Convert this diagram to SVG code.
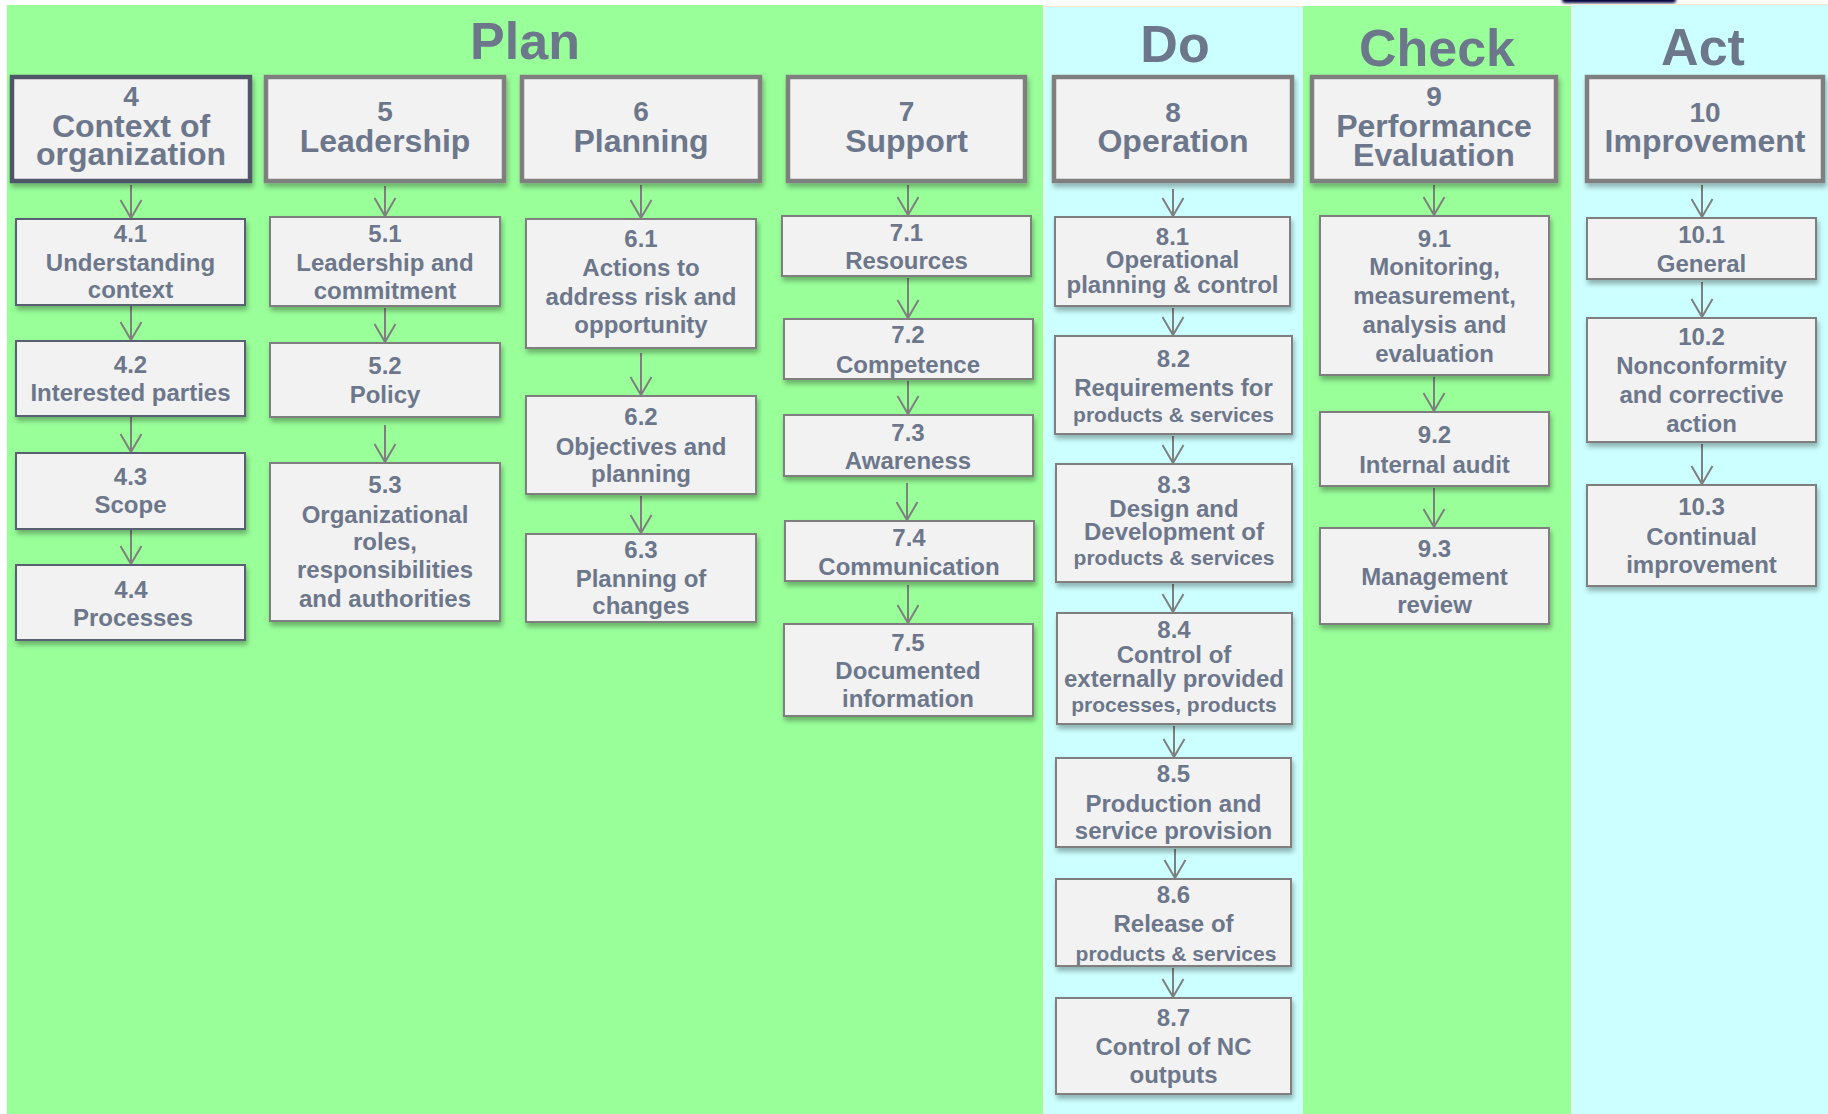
<svg xmlns="http://www.w3.org/2000/svg" width="1828" height="1114" viewBox="0 0 1828 1114">
  <style>
    .hdr { fill: #f2f2f2; stroke: #7f7f7f; stroke-width: 4.5; filter: url(#shadow); }
    .hdr-dark { stroke: #4f5667; }
    .box { fill: #f2f2f2; stroke: #7f7f7f; stroke-width: 2; filter: url(#shadow); }
    .box-dark { stroke: #596072; }
    text { font-family: "Liberation Sans", Arial, sans-serif; font-weight: bold; fill: #6d778b; text-anchor: middle; }
    .phase { font-size: 52px; }
    .hn { font-size: 28px; }
    .ht { font-size: 32px; }
    .sn { font-size: 24px; }
    .ss { font-size: 21px; }
    .conn line { stroke: #7f7f7f; stroke-width: 2; marker-end: url(#vhead); }
  </style>
  <defs>
    <filter id="shadow" x="-10%" y="-10%" width="125%" height="130%">
      <feDropShadow dx="1.5" dy="4" stdDeviation="2.5" flood-color="#000" flood-opacity="0.3"/>
    </filter>
    <filter id="haze" x="-20%" y="-200%" width="140%" height="500%">
      <feGaussianBlur stdDeviation="1.8"/>
    </filter>
    <marker id="vhead" viewBox="-20 -12 22 24" refX="0" refY="0" markerWidth="22" markerHeight="24" markerUnits="userSpaceOnUse" orient="auto">
      <path d="M-18,-10.5 L0,0 L-18,10.5" fill="none" stroke="#7f7f7f" stroke-width="2"/>
    </marker>
  </defs>

  <!-- background bands -->
  <rect x="0" y="0" width="1828" height="1114" fill="#ffffff"/>
  <rect x="1562" y="-4" width="114" height="7" rx="3" fill="#00003a" filter="url(#haze)"/>
  <rect x="7" y="5" width="1036" height="1109" fill="#99ff99"/>
  <rect x="1043.5" y="6.5" width="259.5" height="1108" fill="#ccffff" stroke="#fbe7d8" stroke-width="1"/>
  <rect x="1303" y="6" width="268" height="1108" fill="#99ff99"/>
  <rect x="1571.5" y="4.5" width="257" height="1110" fill="#ccffff" stroke="#fbe7d8" stroke-width="1"/>

  <!-- phase titles -->
  <text class="phase" x="525" y="59">Plan</text>
  <text class="phase" x="1175" y="62">Do</text>
  <text class="phase" x="1437" y="66">Check</text>
  <text class="phase" x="1703" y="65">Act</text>

  <!-- connectors -->
  <g id="connectors" class="conn">
    <line x1="131" y1="185" x2="131" y2="218"/>
    <line x1="131" y1="306" x2="131" y2="340"/>
    <line x1="131" y1="417" x2="131" y2="452"/>
    <line x1="131" y1="530" x2="131" y2="564"/>

    <line x1="385" y1="186" x2="385" y2="216"/>
    <line x1="385" y1="308" x2="385" y2="342"/>
    <line x1="385" y1="425" x2="385" y2="462"/>

    <line x1="641" y1="185" x2="641" y2="218"/>
    <line x1="641" y1="353" x2="641" y2="395"/>
    <line x1="641" y1="496" x2="641" y2="533"/>

    <line x1="908" y1="185" x2="908" y2="215"/>
    <line x1="908" y1="278" x2="908" y2="318"/>
    <line x1="908" y1="381" x2="908" y2="414"/>
    <line x1="907" y1="483" x2="907" y2="520"/>
    <line x1="908" y1="585" x2="908" y2="623"/>

    <line x1="1173" y1="189" x2="1173" y2="216"/>
    <line x1="1173" y1="308" x2="1173" y2="335"/>
    <line x1="1173" y1="436" x2="1173" y2="463"/>
    <line x1="1173" y1="584" x2="1173" y2="612"/>
    <line x1="1174" y1="726" x2="1174" y2="757"/>
    <line x1="1175" y1="849" x2="1175" y2="878"/>
    <line x1="1173" y1="968" x2="1173" y2="997"/>

    <line x1="1434" y1="185" x2="1434" y2="215"/>
    <line x1="1434" y1="377" x2="1434" y2="411"/>
    <line x1="1434" y1="488" x2="1434" y2="527"/>

    <line x1="1702" y1="185" x2="1702" y2="217"/>
    <line x1="1702" y1="282" x2="1702" y2="317"/>
    <line x1="1702" y1="444" x2="1702" y2="484"/>
  </g>

  <!-- clause 4 -->
  <g id="n4">
    <rect class="hdr hdr-dark" x="12" y="77" width="238" height="104"/>
    <text class="hn" x="131" y="106">4</text>
    <text class="ht" x="131" y="137">Context of</text>
    <text class="ht" x="131" y="165">organization</text>
  </g>
  <g id="n4-1">
    <rect class="box box-dark" x="16" y="219" width="229" height="86"/>
    <text class="sn" x="130.5" y="242">4.1</text>
    <text class="sn" x="130.5" y="271">Understanding</text>
    <text class="sn" x="130.5" y="298">context</text>
  </g>
  <g id="n4-2">
    <rect class="box box-dark" x="16" y="341" width="229" height="75"/>
    <text class="sn" x="130.5" y="373">4.2</text>
    <text class="sn" x="130.5" y="401">Interested parties</text>
  </g>
  <g id="n4-3">
    <rect class="box box-dark" x="16" y="453" width="229" height="76"/>
    <text class="sn" x="130.5" y="485">4.3</text>
    <text class="sn" x="130.5" y="513">Scope</text>
  </g>
  <g id="n4-4">
    <rect class="box box-dark" x="16" y="565" width="229" height="75"/>
    <text class="sn" x="131" y="598">4.4</text>
    <text class="sn" x="133" y="626">Processes</text>
  </g>

  <!-- clause 5 -->
  <g id="n5">
    <rect class="hdr" x="266" y="77" width="238" height="104"/>
    <text class="hn" x="385" y="121">5</text>
    <text class="ht" x="385" y="152">Leadership</text>
  </g>
  <g id="n5-1">
    <rect class="box" x="270" y="217" width="230" height="89"/>
    <text class="sn" x="385" y="242">5.1</text>
    <text class="sn" x="385" y="271">Leadership and</text>
    <text class="sn" x="385" y="299">commitment</text>
  </g>
  <g id="n5-2">
    <rect class="box" x="270" y="343" width="230" height="74"/>
    <text class="sn" x="385" y="374">5.2</text>
    <text class="sn" x="385" y="403">Policy</text>
  </g>
  <g id="n5-3">
    <rect class="box" x="270" y="463" width="230" height="158"/>
    <text class="sn" x="385" y="493">5.3</text>
    <text class="sn" x="385" y="523">Organizational</text>
    <text class="sn" x="385" y="550">roles,</text>
    <text class="sn" x="385" y="578">responsibilities</text>
    <text class="sn" x="385" y="607">and authorities</text>
  </g>

  <!-- clause 6 -->
  <g id="n6">
    <rect class="hdr" x="522" y="77" width="238" height="104"/>
    <text class="hn" x="641" y="121">6</text>
    <text class="ht" x="641" y="152">Planning</text>
  </g>
  <g id="n6-1">
    <rect class="box" x="526" y="219" width="230" height="129"/>
    <text class="sn" x="641" y="247">6.1</text>
    <text class="sn" x="641" y="276">Actions to</text>
    <text class="sn" x="641" y="305">address risk and</text>
    <text class="sn" x="641" y="333">opportunity</text>
  </g>
  <g id="n6-2">
    <rect class="box" x="526" y="396" width="230" height="98"/>
    <text class="sn" x="641" y="425">6.2</text>
    <text class="sn" x="641" y="455">Objectives and</text>
    <text class="sn" x="641" y="482">planning</text>
  </g>
  <g id="n6-3">
    <rect class="box" x="526" y="534" width="230" height="88"/>
    <text class="sn" x="641" y="558">6.3</text>
    <text class="sn" x="641" y="587">Planning of</text>
    <text class="sn" x="641" y="614">changes</text>
  </g>

  <!-- clause 7 -->
  <g id="n7">
    <rect class="hdr" x="788" y="77" width="237" height="104"/>
    <text class="hn" x="906.5" y="121">7</text>
    <text class="ht" x="906.5" y="152">Support</text>
  </g>
  <g id="n7-1">
    <rect class="box" x="782" y="216" width="249" height="60"/>
    <text class="sn" x="906.5" y="241">7.1</text>
    <text class="sn" x="906.5" y="269">Resources</text>
  </g>
  <g id="n7-2">
    <rect class="box" x="784" y="319" width="249" height="60"/>
    <text class="sn" x="908" y="343">7.2</text>
    <text class="sn" x="908" y="373">Competence</text>
  </g>
  <g id="n7-3">
    <rect class="box" x="784" y="415" width="249" height="61"/>
    <text class="sn" x="908" y="441">7.3</text>
    <text class="sn" x="908" y="469">Awareness</text>
  </g>
  <g id="n7-4">
    <rect class="box" x="785" y="521" width="249" height="60"/>
    <text class="sn" x="909" y="546">7.4</text>
    <text class="sn" x="909" y="575">Communication</text>
  </g>
  <g id="n7-5">
    <rect class="box" x="784" y="624" width="249" height="92"/>
    <text class="sn" x="908" y="651">7.5</text>
    <text class="sn" x="908" y="679">Documented</text>
    <text class="sn" x="908" y="707">information</text>
  </g>

  <!-- clause 8 -->
  <g id="n8">
    <rect class="hdr" x="1054" y="77" width="238" height="104"/>
    <text class="hn" x="1173" y="122">8</text>
    <text class="ht" x="1173" y="152">Operation</text>
  </g>
  <g id="n8-1">
    <rect class="box" x="1055" y="217" width="235" height="89"/>
    <text class="sn" x="1172.5" y="245">8.1</text>
    <text class="sn" x="1172.5" y="268">Operational</text>
    <text class="sn" x="1172.5" y="293">planning &amp; control</text>
  </g>
  <g id="n8-2">
    <rect class="box" x="1055" y="336" width="237" height="98"/>
    <text class="sn" x="1173.5" y="367">8.2</text>
    <text class="sn" x="1173.5" y="396">Requirements for</text>
    <text class="ss" x="1173.5" y="422">products &amp; services</text>
  </g>
  <g id="n8-3">
    <rect class="box" x="1056" y="464" width="236" height="118"/>
    <text class="sn" x="1174" y="493">8.3</text>
    <text class="sn" x="1174" y="517">Design and</text>
    <text class="sn" x="1174" y="540">Development of</text>
    <text class="ss" x="1174" y="565">products &amp; services</text>
  </g>
  <g id="n8-4">
    <rect class="box" x="1057" y="613" width="235" height="111"/>
    <text class="sn" x="1174" y="638">8.4</text>
    <text class="sn" x="1174" y="663">Control of</text>
    <text class="sn" x="1174" y="687">externally provided</text>
    <text class="ss" x="1174" y="712">processes, products</text>
  </g>
  <g id="n8-5">
    <rect class="box" x="1056" y="758" width="235" height="89"/>
    <text class="sn" x="1173.5" y="782">8.5</text>
    <text class="sn" x="1173.5" y="812">Production and</text>
    <text class="sn" x="1173.5" y="839">service provision</text>
  </g>
  <g id="n8-6">
    <rect class="box" x="1056" y="879" width="235" height="87"/>
    <text class="sn" x="1173.5" y="903">8.6</text>
    <text class="sn" x="1173.5" y="932">Release of</text>
    <text class="ss" x="1176" y="961">products &amp; services</text>
  </g>
  <g id="n8-7">
    <rect class="box" x="1056" y="998" width="235" height="96"/>
    <text class="sn" x="1173.5" y="1026">8.7</text>
    <text class="sn" x="1173.5" y="1055">Control of NC</text>
    <text class="sn" x="1173.5" y="1083">outputs</text>
  </g>

  <!-- clause 9 -->
  <g id="n9">
    <rect class="hdr" x="1312" y="77" width="244" height="104"/>
    <text class="hn" x="1434" y="106">9</text>
    <text class="ht" x="1434" y="137">Performance</text>
    <text class="ht" x="1434" y="166">Evaluation</text>
  </g>
  <g id="n9-1">
    <rect class="box" x="1320" y="216" width="229" height="159"/>
    <text class="sn" x="1434.5" y="247">9.1</text>
    <text class="sn" x="1434.5" y="275">Monitoring,</text>
    <text class="sn" x="1434.5" y="304">measurement,</text>
    <text class="sn" x="1434.5" y="333">analysis and</text>
    <text class="sn" x="1434.5" y="362">evaluation</text>
  </g>
  <g id="n9-2">
    <rect class="box" x="1320" y="412" width="229" height="74"/>
    <text class="sn" x="1434.5" y="443">9.2</text>
    <text class="sn" x="1434.5" y="473">Internal audit</text>
  </g>
  <g id="n9-3">
    <rect class="box" x="1320" y="528" width="229" height="96"/>
    <text class="sn" x="1434.5" y="557">9.3</text>
    <text class="sn" x="1434.5" y="585">Management</text>
    <text class="sn" x="1434.5" y="613">review</text>
  </g>

  <!-- clause 10 -->
  <g id="n10">
    <rect class="hdr" x="1587" y="77" width="236" height="104"/>
    <text class="hn" x="1705" y="122">10</text>
    <text class="ht" x="1705" y="152">Improvement</text>
  </g>
  <g id="n10-1">
    <rect class="box" x="1587" y="218" width="229" height="61"/>
    <text class="sn" x="1701.5" y="243">10.1</text>
    <text class="sn" x="1701.5" y="272">General</text>
  </g>
  <g id="n10-2">
    <rect class="box" x="1587" y="318" width="229" height="124"/>
    <text class="sn" x="1701.5" y="345">10.2</text>
    <text class="sn" x="1701.5" y="374">Nonconformity</text>
    <text class="sn" x="1701.5" y="403">and corrective</text>
    <text class="sn" x="1701.5" y="432">action</text>
  </g>
  <g id="n10-3">
    <rect class="box" x="1587" y="485" width="229" height="101"/>
    <text class="sn" x="1701.5" y="515">10.3</text>
    <text class="sn" x="1701.5" y="545">Continual</text>
    <text class="sn" x="1701.5" y="573">improvement</text>
  </g>
</svg>
